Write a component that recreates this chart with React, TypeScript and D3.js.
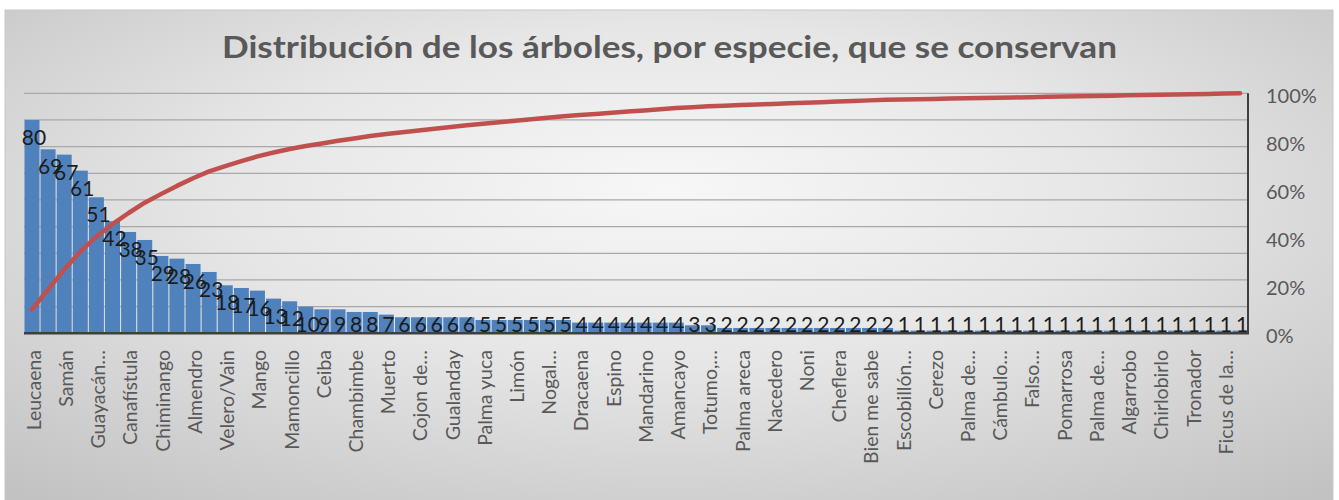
import React from "react";
import * as d3 from "d3";

const title = "Distribución de los árboles, por especie, que se conservan";

// counts per species, sorted descending (76 species)
const values: number[] = [
  80, 69, 67, 61, 51, 42, 38, 35, 29, 28, 26, 23, 18, 17, 16, 13, 12,
  10, 9, 9, 8, 8, 7, 6, 6, 6, 6, 6, 5, 5, 5, 5, 5, 5,
  4, 4, 4, 4, 4, 4, 4, 3, 3,
  2, 2, 2, 2, 2, 2, 2, 2, 2, 2, 2,
  1, 1, 1, 1, 1, 1, 1, 1, 1, 1, 1, 1, 1, 1, 1, 1, 1, 1, 1, 1, 1, 1,
];

// category labels shown on the axis (every other category)
const shownLabels: string[] = [
  "Leucaena", "Samán", "Guayacán…", "Canafístula", "Chiminango", "Almendro",
  "Velero/Vain", "Mango", "Mamoncillo", "Ceiba", "Chambimbe", "Muerto",
  "Cojon de…", "Gualanday", "Palma yuca", "Limón", "Nogal…", "Dracaena",
  "Espino", "Mandarino", "Amancayo", "Totumo,…", "Palma areca", "Nacedero",
  "Noni", "Cheflera", "Bien me sabe", "Escobillón…", "Cerezo", "Palma de…",
  "Cámbulo…", "Falso…", "Pomarrosa", "Palma de…", "Algarrobo", "Chirlobirlo",
  "Tronador", "Ficus de la…",
];

const primaryMax = 90;
const primaryTicks = [10, 20, 30, 40, 50, 60, 70, 80, 90];
const pctTicks = [0, 0.2, 0.4, 0.6, 0.8, 1];

const W = 1339;
const H = 500;
const plot = { left: 24, right: 1248, top: 93.3, bottom: 333.3 };
const FONT = "Lato, 'Open Sans', 'DejaVu Sans', sans-serif";

export default function App() {
  const n = values.length;
  const total = d3.sum(values);
  const cum = d3.cumsum(values).map((c) => c / total);

  const x = d3
    .scaleBand<number>()
    .domain(d3.range(n))
    .range([plot.left, plot.right])
    .paddingInner(0.07)
    .paddingOuter(0.03);
  const y = d3.scaleLinear().domain([0, primaryMax]).range([plot.bottom, plot.top]);
  const yp = d3.scaleLinear().domain([0, 1]).range([plot.bottom, plot.top]);
  const cx = (i: number) => (x(i) as number) + x.bandwidth() / 2;

  const line = d3
    .line<number>()
    .x((_, i) => cx(i))
    .y((d) => yp(d))
    .curve(d3.curveLinear);

  return (
    <svg
      width={W}
      height={H}
      style={{ position: "absolute", left: 0, top: 0, background: "#ffffff" }}
      fontFamily={FONT}
    >
      <defs>
        <radialGradient id="bg" cx="50%" cy="40%" r="75%" fx="50%" fy="35%">
          <stop offset="0%" stopColor="#f7f7f7" />
          <stop offset="45%" stopColor="#e6e6e6" />
          <stop offset="100%" stopColor="#c2c2c2" />
        </radialGradient>
      </defs>
      <rect x={5} y={10} width={1328} height={500} fill="url(#bg)" stroke="#c8c8c8" strokeWidth={1} />

      <text
        x={222}
        y={58}
        fontSize={31}
        fontWeight="bold"
        fill="#595959"
        textLength={895}
        lengthAdjust="spacingAndGlyphs"
      >
        {title}
      </text>

      {/* gridlines */}
      {primaryTicks.map((t) => (
        <line
          key={t}
          x1={plot.left}
          x2={plot.right}
          y1={y(t)}
          y2={y(t)}
          stroke="#a8a8a8"
          strokeWidth={1.2}
        />
      ))}

      {/* bars */}
      {values.map((v, i) => (
        <rect
          key={i}
          x={x(i)}
          y={y(v)}
          width={x.bandwidth()}
          height={plot.bottom - y(v)}
          fill="#4f81bd"
        />
      ))}

      {/* axes lines */}
      <line x1={plot.left} x2={plot.right + 1} y1={plot.bottom} y2={plot.bottom} stroke="#3f3f3f" strokeWidth={2.5} />
      <line x1={plot.right} x2={plot.right} y1={plot.top} y2={plot.bottom} stroke="#3f3f3f" strokeWidth={2} />

      {/* cumulative line */}
      <path d={line(cum) || ""} fill="none" stroke="#c0504d" strokeWidth={4.5} strokeLinejoin="round" strokeLinecap="round" />

      {/* data labels */}
      {values.map((v, i) => (
        <text
          key={i}
          x={cx(i) + 2}
          y={Math.min(y(v) + 25, plot.bottom - 1)}
          textAnchor="middle"
          fontSize={21}
          fill="#1c1c1c"
        >
          {v}
        </text>
      ))}

      {/* secondary axis labels */}
      {pctTicks.map((t) => (
        <text key={t} x={1266} y={yp(t)} dy="0.5em" fontSize={20} fill="#595959">
          {d3.format(".0%")(t)}
        </text>
      ))}

      {/* category labels */}
      {shownLabels.map((lab, k) => {
        const i = k * 2;
        const tx = cx(i) + 2;
        const ty = 350;
        return (
          <text
            key={k}
            transform={`translate(${tx},${ty}) rotate(-90)`}
            textAnchor="end"
            dy="0.35em"
            fontSize={19.5}
            fill="#595959"
          >
            {lab}
          </text>
        );
      })}
    </svg>
  );
}
